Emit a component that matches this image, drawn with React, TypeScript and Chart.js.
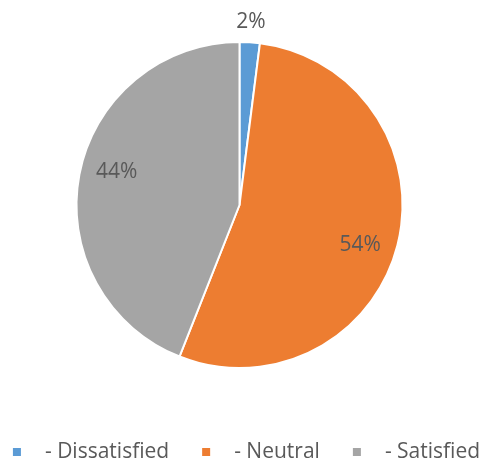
import React, { useEffect, useRef } from "react";
import { Chart, registerables } from "chart.js";

Chart.register(...registerables);

const categories = ["- Dissatisfied", "- Neutral", "- Satisfied"];
const values = [2, 54, 44];
const colors = ["#5B9BD5", "#ED7D31", "#A5A5A5"];

const FONT = "'Open Sans', 'DejaVu Sans', sans-serif";

const labelPlugin = {
  id: "sliceLabels",
  afterDatasetsDraw(chart: any) {
    const ctx = chart.ctx;
    const meta = chart.getDatasetMeta(0);
    const data = chart.data.datasets[0].data as number[];
    const total = data.reduce((a, b) => a + b, 0);
    ctx.save();
    ctx.font = `21px ${FONT}`;
    ctx.fillStyle = "#595959";
    ctx.textAlign = "center";
    ctx.textBaseline = "middle";
    meta.data.forEach((arc: any, i: number) => {
      const { x, y, startAngle, endAngle, outerRadius } = arc.getProps(
        ["x", "y", "startAngle", "endAngle", "outerRadius"],
        true
      );
      const pct = (data[i] / total) * 100;
      const outside = pct < 5;
      const mid = (startAngle + endAngle) / 2 + (outside ? 0 : 0.07);
      const r = outside ? outerRadius + 20 : outerRadius * 0.78;
      const tx = x + Math.cos(mid) * r;
      const ty = y + Math.sin(mid) * r;
      ctx.fillText(`${Math.round(pct)}%`, tx, ty);
    });
    ctx.restore();
  },
};

const legendPlugin = {
  id: "customLegend",
  afterDraw(chart: any) {
    const ctx = chart.ctx;
    const labels = chart.data.labels as string[];
    const bg = chart.data.datasets[0].backgroundColor as string[];
    ctx.save();
    ctx.font = `21px ${FONT}`;
    const box = 8;
    const gapBoxText = 24;
    const gapItems = 33;
    const widths = labels.map((l) => ctx.measureText(l).width);
    const total =
      widths.reduce((a, w) => a + box + gapBoxText + w, 0) +
      gapItems * (labels.length - 1);
    let x = (chart.width - total) / 2 + 6;
    const yc = 452;
    ctx.textBaseline = "middle";
    ctx.textAlign = "left";
    labels.forEach((l, i) => {
      ctx.fillStyle = bg[i];
      ctx.fillRect(x, yc - box / 2, box, box);
      x += box + gapBoxText;
      ctx.fillStyle = "#595959";
      ctx.fillText(l, x, yc);
      x += widths[i] + gapItems;
    });
    ctx.restore();
  },
};

export default function App() {
  const ref = useRef<HTMLCanvasElement>(null);
  useEffect(() => {
    document.body.style.margin = "0";
    const chart = new Chart(ref.current!, {
      type: "pie",
      data: {
        labels: categories,
        datasets: [
          {
            data: values,
            backgroundColor: colors,
            borderColor: "#ffffff",
            borderWidth: 2,
          },
        ],
      },
      options: {
        responsive: false,
        animation: false,
        layout: { padding: { top: 41, bottom: 95, left: 0, right: 2 } },
        plugins: {
          legend: { display: false },
          tooltip: { enabled: false },
        },
      },
      plugins: [labelPlugin, legendPlugin],
    });
    return () => chart.destroy();
  }, []);
  return (
    <div style={{ width: 481, height: 464, background: "#fff" }}>
      <canvas ref={ref} width={481} height={464} />
    </div>
  );
}
